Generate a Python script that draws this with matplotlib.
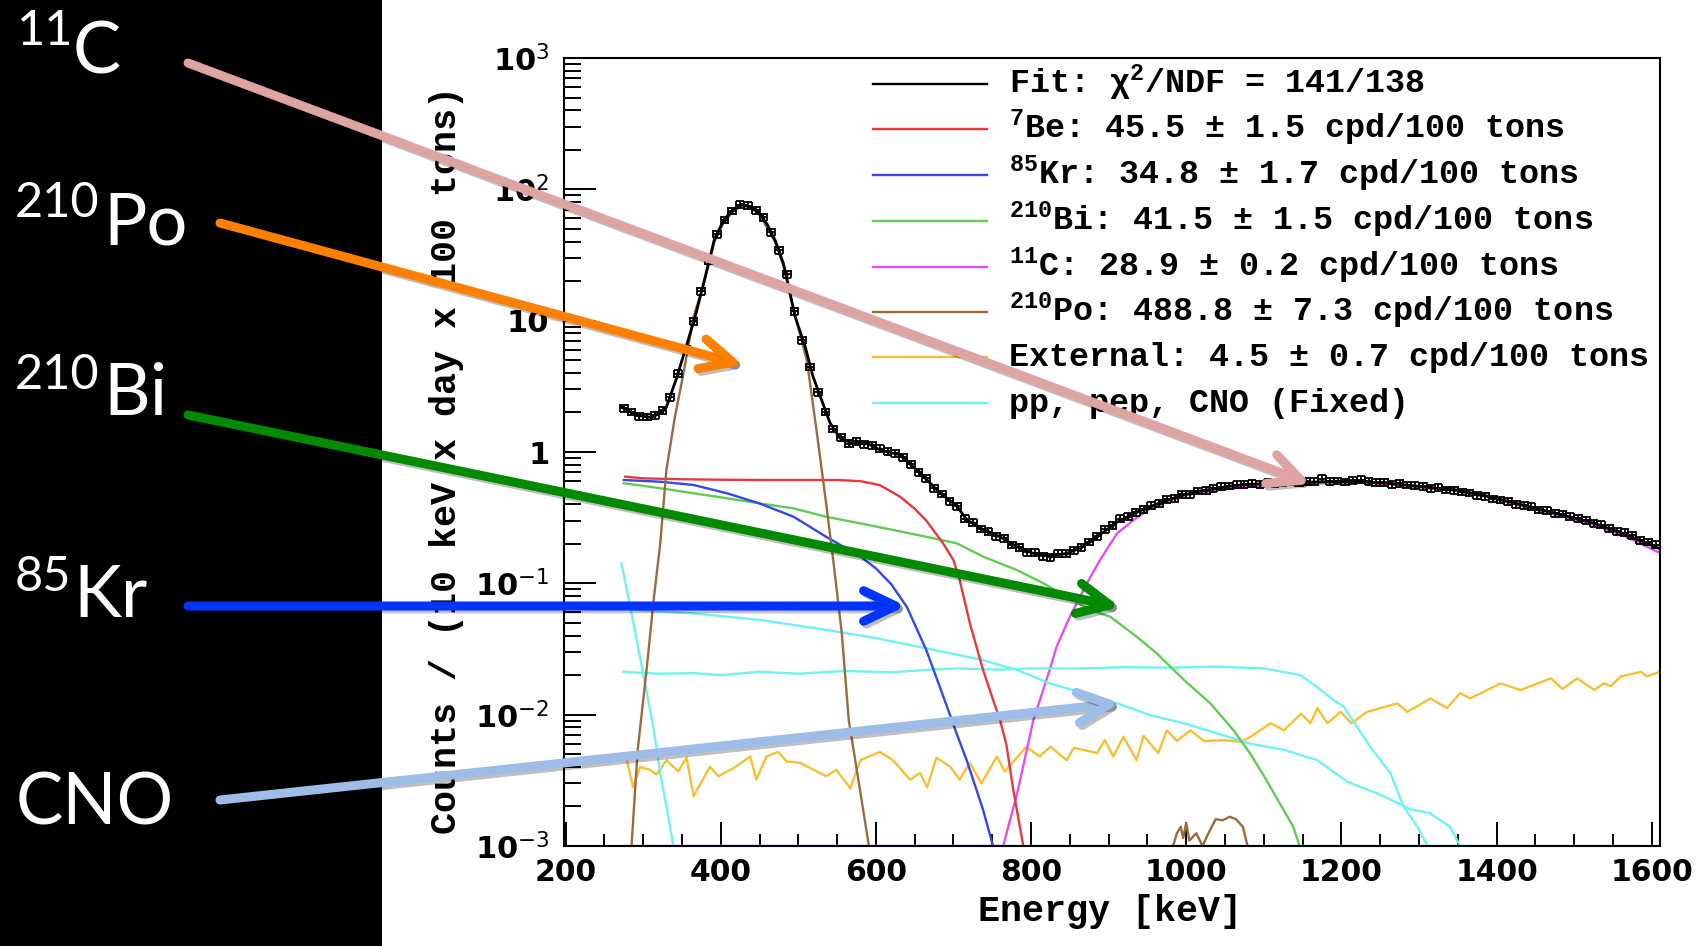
import numpy as np
import matplotlib
matplotlib.use("Agg")
import matplotlib.pyplot as plt
from matplotlib.patches import FancyArrowPatch, Rectangle, ArrowStyle
from matplotlib.ticker import MultipleLocator, LogLocator, NullFormatter
import matplotlib.patheffects as pe

plt.rcParams.update({
    "mathtext.fontset": "custom",
    "mathtext.rm": "Liberation Mono:bold",
    "mathtext.it": "Liberation Mono:bold",
    "mathtext.bf": "Liberation Mono:bold",
    "mathtext.sf": "Liberation Mono:bold",
    "mathtext.tt": "Liberation Mono:bold",
})

# ---------------- data ----------------
data_E = list(range(275, 1606, 10))
data_v = [2.15, 2.02, 1.88, 1.85, 1.90, 2.08, 2.62, 3.95, 6.1, 9.9,
          16.8, 28.5, 45.5, 58.5, 68.5, 76.5, 75.0, 69.5, 61.5, 47.0,
          34.5, 22.5, 11.8, 7.1, 4.45, 2.85, 2.02, 1.50, 1.30, 1.16,
          1.21, 1.15, 1.13, 1.06, 1.01, 0.98, 0.91, 0.81, 0.70, 0.63,
          0.53, 0.48, 0.42, 0.385, 0.31, 0.29, 0.26, 0.247, 0.229, 0.22,
          0.196, 0.188, 0.172, 0.171, 0.161, 0.158, 0.168, 0.168, 0.178, 0.188,
          0.207, 0.228, 0.258, 0.276, 0.31, 0.322, 0.349, 0.366, 0.39, 0.405,
          0.435, 0.446, 0.475, 0.476, 0.505, 0.508, 0.53, 0.545, 0.552, 0.565,
          0.568, 0.575, 0.57, 0.585, 0.577, 0.588, 0.596, 0.583, 0.598, 0.595,
          0.625, 0.597, 0.603, 0.592, 0.612, 0.615, 0.598, 0.585, 0.59, 0.57,
          0.58, 0.562, 0.553, 0.55, 0.532, 0.536, 0.515, 0.512, 0.497, 0.488,
          0.468, 0.462, 0.44, 0.432, 0.422, 0.40, 0.392, 0.383, 0.362, 0.358,
          0.342, 0.338, 0.322, 0.312, 0.302, 0.288, 0.279, 0.263, 0.25, 0.243,
          0.232, 0.213, 0.207, 0.197]
data_rel_err = 0.06
data_half_bin = 5

fit_E = [272, 280, 290, 300, 310, 320, 330, 343, 356, 367, 378, 392, 404, 416, 428,
         440, 450, 460, 470, 481, 496, 509, 519, 530, 541, 554, 571, 588, 605, 631,
         657, 683, 704, 717, 738, 760, 782, 803, 824, 846, 867, 889, 910, 932, 954,
         975, 997, 1018, 1040, 1061, 1083, 1126, 1169, 1212, 1262, 1305, 1348, 1391,
         1434, 1477, 1520, 1563, 1609]
fit_v = [2.2, 2.08, 1.95, 1.87, 1.84, 1.95, 2.2, 3.64, 6.5, 10.7, 19.3, 42, 58.5, 70, 77,
         73, 65.8, 54, 41, 27, 10.7, 6.3, 3.75, 2.49, 1.66, 1.27, 1.16, 1.17, 1.04, 0.95,
         0.69, 0.485, 0.39, 0.305, 0.258, 0.226, 0.19, 0.169, 0.162, 0.169, 0.19, 0.235,
         0.29, 0.34, 0.384, 0.43, 0.47, 0.505, 0.53, 0.555, 0.568, 0.58, 0.592, 0.598,
         0.578, 0.544, 0.514, 0.457, 0.394, 0.341, 0.294, 0.24, 0.185]

be7_E = [277, 300, 350, 400, 450, 500, 550, 580, 605, 631, 650, 665, 687, 700, 708,
         721, 738, 751, 760, 768, 777, 790]
be7_v = [0.649, 0.63, 0.62, 0.615, 0.612, 0.612, 0.612, 0.60, 0.56, 0.457, 0.37, 0.30,
         0.20, 0.15, 0.106, 0.05, 0.022, 0.013, 0.0091, 0.006, 0.0027, 0.001]

kr85_E = [275, 322, 365, 408, 450, 494, 536, 580, 600, 620, 640, 665, 687, 704, 717,
          738, 751]
kr85_v = [0.612, 0.594, 0.561, 0.485, 0.406, 0.321, 0.226, 0.16, 0.13, 0.098, 0.066,
          0.031, 0.0137, 0.0072, 0.0045, 0.0019, 0.001]

bi210_E = [275, 322, 365, 408, 450, 494, 536, 580, 622, 665, 704, 738, 782, 816, 846,
           876, 902, 936, 962, 997, 1031, 1061, 1083, 1103, 1125, 1138, 1146]
bi210_v = [0.578, 0.53, 0.485, 0.444, 0.406, 0.372, 0.321, 0.286, 0.255, 0.226, 0.202,
           0.16, 0.126, 0.1, 0.079, 0.0626, 0.0557, 0.0393, 0.0293, 0.0184, 0.0122,
           0.0076, 0.0050, 0.0032, 0.0019, 0.0014, 0.001]

c11_E = [275, 764, 782, 803, 824, 833, 850, 872, 889, 911, 932, 954, 997, 1040, 1083,
         1126, 1169, 1212, 1262, 1305, 1348, 1391, 1434, 1477, 1520, 1563, 1609]
c11_v = [0.001, 0.001, 0.0025, 0.0091, 0.0219, 0.033, 0.0557, 0.1, 0.151, 0.24, 0.303,
         0.372, 0.471, 0.514, 0.545, 0.561, 0.575, 0.585, 0.57, 0.535, 0.505, 0.45,
         0.386, 0.333, 0.286, 0.232, 0.172]

po210_E = [285, 293, 304, 314, 322, 330, 341, 352, 365, 378, 392, 404, 416, 428, 440,
           450, 470, 481, 494, 511, 524, 537, 545, 556, 565, 576, 591]
po210_v = [0.001, 0.0054, 0.0207, 0.079, 0.2, 0.73, 1.86, 3.97, 10.7, 19, 40, 56, 68,
           75, 72, 64, 40, 26, 12, 5.0, 1.39, 0.36, 0.15, 0.042, 0.0091, 0.0036, 0.001]
po210b_E = [983, 988, 993, 996, 1000, 1004, 1013, 1021, 1030, 1038, 1047, 1056, 1064,
            1073, 1079]
po210b_v = [0.001, 0.00125, 0.0014, 0.00115, 0.0015, 0.0011, 0.00125, 0.001, 0.0013,
            0.0016, 0.00157, 0.00167, 0.0016, 0.0014, 0.001]

ext_E = [279, 287, 296, 309, 317, 330, 345, 356, 365, 386, 397, 416, 438, 446, 459,
         474, 485, 502, 536, 549, 567, 580, 605, 622, 644, 657, 666, 678, 696, 708,
         721, 736, 756, 766, 794, 811, 825, 846, 855, 885, 895, 906, 919, 936, 945,
         964, 975, 988, 1005, 1023, 1049, 1070, 1083, 1109, 1126, 1148, 1160, 1169,
         1182, 1199, 1213, 1233, 1272, 1285, 1315, 1336, 1353, 1366, 1405, 1431, 1470,
         1485, 1504, 1526, 1538, 1547, 1560, 1586, 1594, 1610]
ext_v = [0.0045, 0.0028, 0.0040, 0.0038, 0.0035, 0.0045, 0.0037, 0.0047, 0.0024, 0.0040,
         0.0034, 0.0039, 0.0048, 0.0032, 0.0048, 0.0052, 0.0044, 0.0043, 0.0034, 0.0038,
         0.00275, 0.0045, 0.0052, 0.0045, 0.0032, 0.0036, 0.0028, 0.0047, 0.0040, 0.0032,
         0.0043, 0.0030, 0.0048, 0.0037, 0.0057, 0.0048, 0.0057, 0.0045, 0.0056, 0.0051,
         0.0064, 0.0048, 0.0068, 0.0045, 0.0069, 0.0051, 0.0076, 0.0063, 0.0076, 0.0063,
         0.0064, 0.0062, 0.0068, 0.0086, 0.0076, 0.0102, 0.0086, 0.0112, 0.0086, 0.0105,
         0.0086, 0.0105, 0.0122, 0.0105, 0.0133, 0.0112, 0.0146, 0.0133, 0.0173, 0.0154,
         0.0189, 0.0157, 0.0189, 0.0154, 0.0173, 0.0165, 0.0195, 0.0212, 0.0195, 0.0212]

pp_E = [272, 285, 300, 313, 322, 330, 339, 1610]
pp_v = [0.142, 0.059, 0.0207, 0.0081, 0.0036, 0.002, 0.001, 0.001]

pep_E = [275, 320, 365, 400, 450, 500, 560, 620, 680, 707, 760, 800, 868, 920, 980,
         1040, 1100, 1147, 1168, 1190, 1203, 1237, 1263, 1280, 1298, 1311]
pep_v = [0.0212, 0.0205, 0.0207, 0.0200, 0.0212, 0.0205, 0.0215, 0.0210, 0.0222, 0.0225,
         0.0220, 0.0225, 0.0225, 0.0230, 0.0228, 0.0232, 0.0225, 0.020, 0.0163, 0.0129,
         0.0115, 0.0057, 0.0036, 0.002, 0.0014, 0.001]

cno_E = [282, 365, 451, 536, 601, 665, 696, 738, 782, 824, 868, 911, 954, 997, 1040,
         1083, 1126, 1169, 1207, 1254, 1289, 1314, 1340, 1353]
cno_v = [0.063, 0.059, 0.0526, 0.0442, 0.0382, 0.032, 0.0293, 0.026, 0.0219, 0.0173,
         0.0146, 0.0122, 0.0099, 0.0086, 0.0072, 0.006, 0.0054, 0.0045, 0.0031, 0.0024,
         0.0019, 0.00178, 0.0014, 0.001]

x_ticks = [200, 400, 600, 800, 1000, 1200, 1400, 1600]
y_ticks = [1e-3, 1e-2, 1e-1, 1, 10, 1e2, 1e3]
y_tick_labels = [r"$\mathbf{10}^{-3}$", r"$\mathbf{10}^{-2}$", r"$\mathbf{10}^{-1}$",
                 "1", "10", r"$\mathbf{10}^{2}$", r"$\mathbf{10}^{3}$"]

legend_labels = ["Fit: \u03c7$^{2}$/NDF = 141/138",
                 "$^{7}$Be: 45.5 \u00b1 1.5 cpd/100 tons",
                 "$^{85}$Kr: 34.8 \u00b1 1.7 cpd/100 tons",
                 "$^{210}$Bi: 41.5 \u00b1 1.5 cpd/100 tons",
                 "$^{11}$C: 28.9 \u00b1 0.2 cpd/100 tons",
                 "$^{210}$Po: 488.8 \u00b1 7.3 cpd/100 tons",
                 "External: 4.5 \u00b1 0.7 cpd/100 tons",
                 "pp, pep, CNO (Fixed)"]

# ---------------- styling ----------------
W, H = 1708, 946
C_FIT = "#000000"
C_BE = "#e8383d"
C_KR = "#3349e6"
C_BI = "#62cc52"
C_C = "#e24ff0"
C_PO = "#9a6b3b"
C_EXT = "#f7c034"
C_CNO = "#70f2f2"
legend_colors = [C_FIT, C_BE, C_KR, C_BI, C_C, C_PO, C_EXT, C_CNO]

fig = plt.figure(figsize=(W / 100, H / 100), dpi=100)
fig.patch.set_facecolor("white")

ax_l, ax_r, ax_t, ax_b = 564, 1659.5, 58, 846
ax = fig.add_axes([ax_l / W, 1 - ax_b / H, (ax_r - ax_l) / W, (ax_b - ax_t) / H])
ax.set_yscale("log")
ax.set_xlim(198, 1610)
ax.set_ylim(1e-3, 1e3)

lw = 1.7
ax.plot(ext_E, ext_v, color=C_EXT, lw=lw, zorder=2)
ax.plot(c11_E, c11_v, color=C_C, lw=lw, zorder=2)
ax.plot(pp_E, pp_v, color=C_CNO, lw=lw, zorder=2)
ax.plot(pep_E, pep_v, color=C_CNO, lw=lw, zorder=2)
ax.plot(cno_E, cno_v, color=C_CNO, lw=lw, zorder=2)
ax.plot(bi210_E, bi210_v, color=C_BI, lw=lw, zorder=2)
ax.plot(kr85_E, kr85_v, color=C_KR, lw=lw, zorder=2)
ax.plot(be7_E, be7_v, color=C_BE, lw=lw, zorder=2)
ax.plot(po210_E, po210_v, color=C_PO, lw=lw, zorder=2)
ax.plot(po210b_E, po210b_v, color=C_PO, lw=lw, zorder=2)

data_err = [data_rel_err * v for v in data_v]
ax.errorbar(data_E, data_v, xerr=data_half_bin, yerr=data_err, fmt=".", ms=2,
            color="black", elinewidth=1.3, capsize=3, capthick=1.3, zorder=4)
ax.plot(fit_E, fit_v, color=C_FIT, lw=2.0, zorder=5)

# axes / ticks
for s in ax.spines.values():
    s.set_linewidth(1.5)
ax.set_xticks(x_ticks, [str(t) for t in x_ticks], fontsize=21.5, fontweight="bold",
              family="DejaVu Sans")
ax.xaxis.set_minor_locator(MultipleLocator(50))
ax.set_yticks(y_ticks, y_tick_labels, fontsize=22, fontweight="bold",
              family="DejaVu Sans", math_fontfamily="dejavusans")
ax.yaxis.set_minor_locator(LogLocator(base=10, subs=list(range(2, 10))))
ax.yaxis.set_minor_formatter(NullFormatter())
ax.tick_params(axis="x", which="major", direction="in", length=17, width=1.4,
               top=False, pad=8.5)
ax.tick_params(axis="x", which="minor", direction="in", length=9, width=1.4, top=False)
ax.tick_params(axis="y", which="major", direction="in", length=23, width=1.4,
               right=False, pad=10.5)
ax.tick_params(axis="y", which="minor", direction="in", length=12.5, width=1.4,
               right=False)

ax.set_ylabel("Counts / (10 keV x day x 100 tons)", family="Liberation Mono",
              fontweight="bold", fontsize=26.5)
ax.yaxis.set_label_coords((447 - ax_l) / (ax_r - ax_l), (ax_b - 460) / (ax_b - ax_t))
ax.yaxis.label.set_va("center")
ax.set_xlabel("Energy [keV]", family="Liberation Mono", fontweight="bold", fontsize=26.5)
ax.xaxis.set_label_coords((1110 - ax_l) / (ax_r - ax_l), (ax_b - 911) / (ax_b - ax_t))
ax.xaxis.label.set_va("center")

# legend (ROOT style, no frame)
row_y = [84, 129, 175, 221, 267, 312, 357, 403]
def axc(x, y):
    return ((x - ax_l) / (ax_r - ax_l), (ax_b - y) / (ax_b - ax_t))
for yy, col, lab in zip(row_y, legend_colors, legend_labels):
    x0, y0 = axc(873, yy)
    x1, _ = axc(987, yy)
    ax.plot([x0, x1], [y0, y0], color=col, lw=1.7, transform=ax.transAxes,
            clip_on=False, zorder=6)
    xt, yt = axc(1009, yy + 9)
    ax.text(xt, yt, lab, transform=ax.transAxes, ha="left", va="baseline",
            family="Liberation Mono", fontweight="bold", fontsize=24, zorder=6)

# ---------------- left black panel with labels ----------------
def fc(x, y):
    return (x / W, 1 - y / H)

fig.add_artist(Rectangle((0, 0), 382 / W, 1, transform=fig.transFigure,
                         facecolor="black", edgecolor="none", zorder=1))
label_font = dict(color="white", family="Lato", va="baseline", ha="left", zorder=3)
panel_labels = [("11", 17, 45, "C", 73, 74), ("210", 15, 217, "Po", 103, 244),
                ("210", 15, 389, "Bi", 103, 415), ("85", 15, 591, "Kr", 73, 617)]
for sup, sx, sy, main, mx, my in panel_labels:
    fig.text(*fc(sx, sy), sup, fontsize=35, **label_font)
    fig.text(*fc(mx, my), main, fontsize=52, **label_font)
fig.text(*fc(16, 824), "CNO", fontsize=51, **label_font)

# ---------------- arrows ----------------
arrows = [((188, 63), (1311, 484), "#dea3a3"),
          ((220, 223), (743, 365), "#ff7f00"),
          ((188, 415), (1120, 607), "#008a00"),
          ((188, 606), (906, 606), "#0033ff"),
          ((220, 800), (1120, 703), "#9dbde8")]
for (p0, p1, col) in arrows:
    arr = FancyArrowPatch(fc(*p0), fc(*p1), transform=fig.transFigure,
                          arrowstyle=ArrowStyle("->", head_length=23, head_width=11),
                          mutation_scale=1, lw=6.5, color=col, shrinkA=0, shrinkB=0,
                          capstyle="round", joinstyle="round", zorder=10)
    arr.set_path_effects([pe.SimpleLineShadow(offset=(2, -2), shadow_color="black",
                                              alpha=0.25), pe.Normal()])
    fig.add_artist(arr)

fig.savefig("out.png", dpi=100, facecolor="white")
